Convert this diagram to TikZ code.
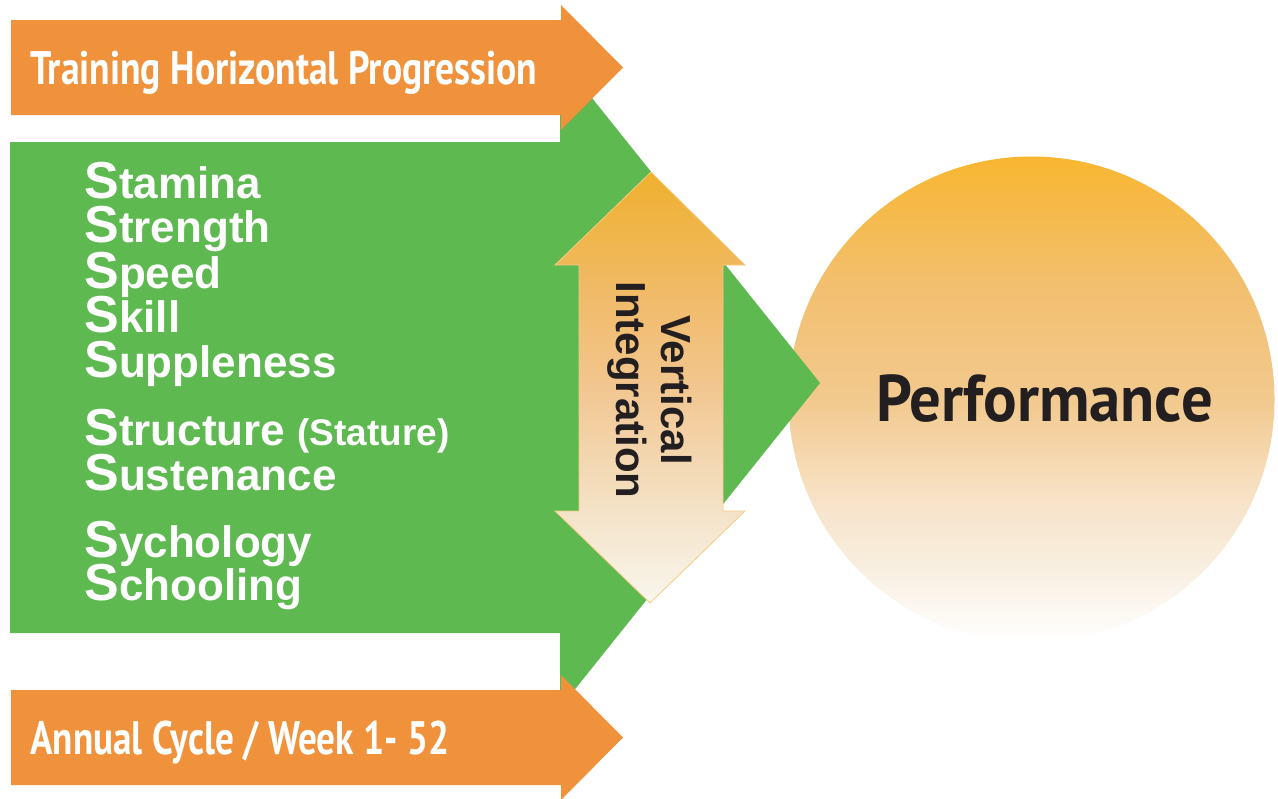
\documentclass[tikz,border=0pt]{standalone}
\usepackage{fontspec}
\setmainfont{Liberation Sans}
\newfontfamily\humanist{PT Sans}

\definecolor{banner}{HTML}{F0923C}
\definecolor{grass}{HTML}{5DB950}
\definecolor{ink}{HTML}{231F20}
\definecolor{rim}{HTML}{F6CB84}

\pgfdeclareverticalshading{perfshade}{100bp}{%
  color(0bp)=(white); color(25bp)=(white);
  color(33bp)=(rgb,255:red,248;green,238;blue,223);
  color(40bp)=(rgb,255:red,247;green,226;blue,198);
  color(50bp)=(rgb,255:red,242;green,201;blue,142);
  color(62bp)=(rgb,255:red,242;green,191;blue,110);
  color(75bp)=(rgb,255:red,248;green,182;blue,48);
  color(100bp)=(rgb,255:red,248;green,182;blue,48)}
\pgfdeclareverticalshading{liftshade}{100bp}{%
  color(0bp)=(white);
  color(25bp)=(rgb,255:red,249;green,246;blue,238);
  color(36bp)=(rgb,255:red,244;green,226;blue,198);
  color(50bp)=(rgb,255:red,242;green,198;blue,144);
  color(62bp)=(rgb,255:red,240;green,185;blue,99);
  color(75bp)=(rgb,255:red,239;green,177;blue,46);
  color(100bp)=(rgb,255:red,239;green,177;blue,46)}

\tikzset{
  bannertext/.style={anchor=base west, inner sep=0pt, text=white,
    font=\humanist\bfseries\fontsize{23.5}{28}\selectfont},
  sword/.style={anchor=base west, inner sep=0pt, text=white,
    font=\bfseries\fontsize{22}{22}\selectfont},
}
\newcommand{\bigS}{{\fontsize{26}{26}\selectfont S}}

\begin{document}
\begin{tikzpicture}[x=0.5pt, y=-0.5pt]
\useasboundingbox (0,0) rectangle (1278,798);

\node[circle, minimum size=243pt, inner sep=0pt, shading=perfshade] (goal) at (1031.5,399.5) {};

\fill[grass] (10,142) -- (560,142) -- (560,58) -- (820,383) -- (560,708) -- (560,633) -- (10,633) -- cycle;
\fill[banner] (11,20) -- (561,20) -- (561,5) -- (623,67.5) -- (561,130) -- (561,115) -- (11,115) -- cycle;
\fill[banner] (11,690) -- (561,690) -- (561,675) -- (623,737.5) -- (561,800) -- (561,785) -- (11,785) -- cycle;

\draw[rim, line width=0.4pt, shading=liftshade] (651,172) -- (745,265) -- (723,265) -- (723,511) -- (745,511)
  -- (650,603) -- (555,511) -- (579,511) -- (579,265) -- (555,265) -- cycle;

\node[bannertext] (horiz) at (30,84) {\scalebox{0.80}[1]{Training Horizontal Progression}};
\node[bannertext] (cycle) at (30,754) {\scalebox{0.79}[1]{Annual Cycle / Week 1- 52}};

\foreach \y/\rest [count=\i] in {198/tamina, 242/trength, 288/peed, 332/kill, 377/uppleness,
    445/{tructure {\fontsize{18.5}{18.5}\selectfont(Stature)}}, 490/ustenance, 557/ychology, 600/chooling}
  \node[sword] (s\i) at (84,\y) {\bigS\rest};

\node[rotate=-90, align=center, inner sep=0pt, text=ink, font=\bfseries\fontsize{21}{22.5}\selectfont]
  (lift) at (650,390) {Vertical\\Integration};

\node[anchor=base, inner sep=0pt, text=ink, font=\humanist\bfseries\fontsize{33}{33}\selectfont]
  (perf) at (1044.5,421) {\scalebox{0.95}[1]{Performance}};
\end{tikzpicture}
\end{document}
